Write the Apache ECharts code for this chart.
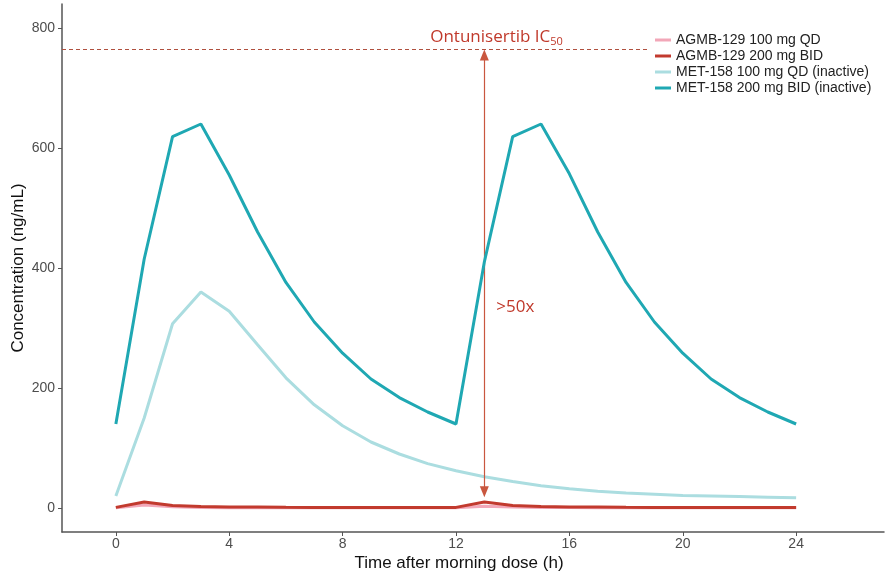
<!DOCTYPE html>
<html><head><meta charset="utf-8">
<script src="https://cdn.jsdelivr.net/npm/echarts@6/dist/echarts.min.js"></script>
<style>html,body{margin:0;padding:0;background:#fff}#c{width:886px;height:575px}</style>
</head><body><div id="c"></div>
<script>
const hours = [0,1,2,3,4,5,6,7,8,9,10,11,12,13,14,15,16,17,18,19,20,21,22,23,24];
const agmb100qd = [0.5,5,2,1,0.6,0.5,0.5,0.5,0.5,0.5,0.5,0.5,0.5,3,1.5,1,0.7,0.6,0.5,0.5,0.5,0.5,0.5,0.5,0.5];
const agmb200bid = [1,10,4,2.5,1.8,1.5,1.2,1,1,1,1,1,1,10,4,2.5,1.8,1.5,1.2,1,1,1,1,1,1];
const met100qd = [20,150,307,360,328,272,217,172,137,110,90,74,62,52,44,37,32,28,25,23,21,20,19,18,17];
const met200bid = [140,415,619,640,555,460,376,310,258,215,184,160,140,410,619,640,557,460,376,310,258,215,184,160,140];
const seriesNames = ['AGMB-129 100 mg QD','AGMB-129 200 mg BID','MET-158 100 mg QD (inactive)','MET-158 200 mg BID (inactive)'];
const xTicks = [0,4,8,12,16,20,24];
const yTicks = [0,200,400,600,800];
const ic50 = 765;
const arrowX = 13;
const arrowFrom = 27, arrowTo = 755;

const pair = arr => hours.map((h,i)=>[h,arr[i]]);
const font = 'Liberation Sans, Arial, sans-serif';
const annoFont = 'Open Sans, sans-serif';
const chart = echarts.init(document.getElementById('c'), null, {renderer:'canvas'});
chart.setOption({
  animation:false,
  backgroundColor:'#fff',
  grid:{left:62,right:2,top:4,bottom:43,outerBoundsMode:'none',containLabel:false},
  legend:{
    data:seriesNames, orient:'vertical', left:651, top:31,
    itemWidth:16, itemHeight:3, itemGap:2, icon:'rect',
    backgroundColor:'#fff', padding:[2,4,2,4],
    textStyle:{fontFamily:font,fontSize:14,color:'#222',lineHeight:14}
  },
  xAxis:{
    type:'value', min:-1.9, max:27.1,
    name:'Time after morning dose (h)', nameLocation:'middle', nameGap:23, nameMoveOverlap:false,
    nameTextStyle:{fontFamily:font,fontSize:17,color:'#111',padding:[0,28,0,0]},
    axisLine:{show:true,onZero:false,lineStyle:{color:'#555',width:1.5}},
    axisTick:{show:true,length:4,lineStyle:{color:'#555'},customValues:xTicks},
    axisLabel:{fontFamily:font,fontSize:14,color:'#4d4d4d',margin:5,customValues:xTicks},
    splitLine:{show:false}
  },
  yAxis:{
    type:'value', min:-40, max:840,
    name:'Concentration (ng/mL)', nameLocation:'middle', nameGap:35, nameMoveOverlap:false,
    nameTextStyle:{fontFamily:font,fontSize:17,color:'#111'},
    axisLine:{show:true,onZero:false,lineStyle:{color:'#555',width:1.5}},
    axisTick:{show:true,length:4,lineStyle:{color:'#555'},customValues:yTicks},
    axisLabel:{fontFamily:font,fontSize:14,color:'#4d4d4d',margin:7,customValues:yTicks},
    splitLine:{show:false}
  },
  series:[
    {name:seriesNames[0],type:'line',data:pair(agmb100qd),symbol:'none',lineStyle:{color:'#f2a7b8',width:3},itemStyle:{color:'#f2a7b8'},z:3},
    {name:seriesNames[1],type:'line',data:pair(agmb200bid),symbol:'none',lineStyle:{color:'#c23a2e',width:3},itemStyle:{color:'#c23a2e'},z:4},
    {name:seriesNames[2],type:'line',data:pair(met100qd),symbol:'none',lineStyle:{color:'#abdde0',width:3},itemStyle:{color:'#abdde0'},z:2},
    {name:seriesNames[3],type:'line',data:pair(met200bid),symbol:'none',lineStyle:{color:'#1fa8b3',width:3},itemStyle:{color:'#1fa8b3'},z:5},
    {name:'anno',type:'line',data:[],z:6,
      markLine:{silent:true,animation:false,
        data:[
          [{coord:[-1.9,ic50],symbol:'none',lineStyle:{type:[4,3],color:'#b0503f',width:1}},{coord:[18.8,ic50],symbol:'none'}],
          [{coord:[arrowX,arrowFrom],symbol:'triangle',symbolSize:[9,11],symbolRotate:180,lineStyle:{type:'solid',color:'#c9573f',width:1.2}},{coord:[arrowX,arrowTo],symbol:'triangle',symbolSize:[9,11]}]
        ],
        label:{show:false},
        itemStyle:{color:'#b5261e'}
      },
      markPoint:{silent:true,animation:false,symbol:'circle',symbolSize:0,
        data:[
          {coord:[13.43,784],label:{show:true,position:'inside',formatter:'{a|Ontunisertib IC}{s|50}',
            rich:{a:{fontFamily:annoFont,fontSize:17,color:'#c0392b'},s:{fontFamily:annoFont,fontSize:11,color:'#c0392b',verticalAlign:'bottom',padding:[9,0,0,0]}}}},
          {coord:[13.42,335],label:{show:true,position:'right',distance:0,formatter:'>50x',fontFamily:annoFont,fontSize:17,color:'#c0392b'}}
        ]
      }
    }
  ]
});
</script></body></html>
